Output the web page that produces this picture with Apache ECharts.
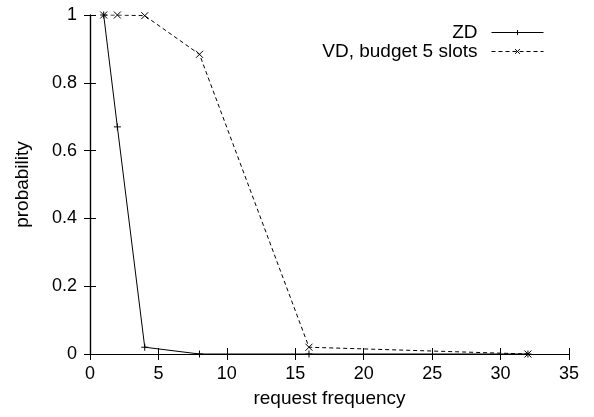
<!DOCTYPE html>
<html>
<head>
<meta charset="utf-8">
<script src="https://cdn.jsdelivr.net/npm/echarts@6/dist/echarts.min.js"></script>
<style>
  html, body { margin: 0; padding: 0; background: #fff; }
  #chart { width: 594px; height: 417px; }
</style>
</head>
<body>
<div id="chart"></div>
<script>
// values
var zdX = [1, 2, 4, 8, 16, 32];
var zdY = [1, 0.67, 0.02, 0, 0, 0];
var vdX = [1, 2, 4, 8, 16, 32];
var vdY = [1, 1, 0.998, 0.884, 0.02, 0];
var seriesNames = ['ZD', 'VD, budget 5 slots'];

var plusPath = 'path://M5,0L5,10M0,5L10,5';
var crossPath = 'path://M0,0L10,10M10,0L0,10';
var font = 'Liberation Sans, Arial, sans-serif';

function pairs(xs, ys) {
    return xs.map(function (x, i) { return [x, ys[i]]; });
}

function mirrorAxis(extra) {
    // gnuplot style: ticks inward, no labels, on the opposite side
    var ax = {
        type: 'value',
        axisLine: { show: true, lineStyle: { color: '#000', width: 1.2 } },
        axisTick: { show: true, inside: true, length: 6, lineStyle: { color: '#000' } },
        axisLabel: { show: false },
        splitLine: { show: false }
    };
    return Object.assign(ax, extra);
}

var chart = echarts.init(document.getElementById('chart'));
chart.setOption({
    backgroundColor: '#fff',
    animation: false,
    grid: { left: 90, right: 25, top: 15, bottom: 63 },
    legend: {
        orient: 'vertical',
        right: 45,
        top: 18,
        align: 'right',
        itemWidth: 52,
        itemHeight: 6,
        itemGap: 0,
        lineStyle: { width: 1 },
        itemStyle: { borderWidth: 1 },
        textStyle: { fontFamily: font, fontSize: 19, color: '#000', padding: [0, 9, 0, 0] },
        data: seriesNames
    },
    xAxis: [
        mirrorAxis({
            min: 0, max: 35, interval: 5,
            name: 'request frequency',
            nameLocation: 'middle',
            nameGap: 35,
            nameTextStyle: { fontFamily: font, fontSize: 19, color: '#000' },
            axisLabel: { show: true, fontFamily: font, fontSize: 18, color: '#000', margin: 11 }
        }),
        mirrorAxis({ position: 'top', min: 0, max: 35, interval: 5 })
    ],
    yAxis: [
        mirrorAxis({
            min: 0, max: 1, interval: 0.2,
            name: 'probability',
            nameLocation: 'middle',
            nameGap: 58,
            nameTextStyle: { fontFamily: font, fontSize: 19, color: '#000' },
            axisLabel: { show: true, fontFamily: font, fontSize: 18, color: '#000', margin: 13 }
        }),
        mirrorAxis({ position: 'right', min: 0, max: 1, interval: 0.2 })
    ],
    series: [
        {
            name: seriesNames[0],
            type: 'line',
            data: pairs(zdX, zdY),
            symbol: plusPath,
            symbolSize: 7,
            showAllSymbol: true,
            lineStyle: { color: '#000', width: 1, type: 'solid' },
            itemStyle: { color: 'none', borderColor: '#000', borderWidth: 1 },
            z: 3
        },
        {
            name: seriesNames[1],
            type: 'line',
            data: pairs(vdX, vdY),
            symbol: crossPath,
            symbolSize: 7,
            showAllSymbol: true,
            lineStyle: { color: '#000', width: 1, type: [4, 3] },
            itemStyle: { color: 'none', borderColor: '#000', borderWidth: 1 },
            z: 2
        }
    ]
});
</script>
</body>
</html>
